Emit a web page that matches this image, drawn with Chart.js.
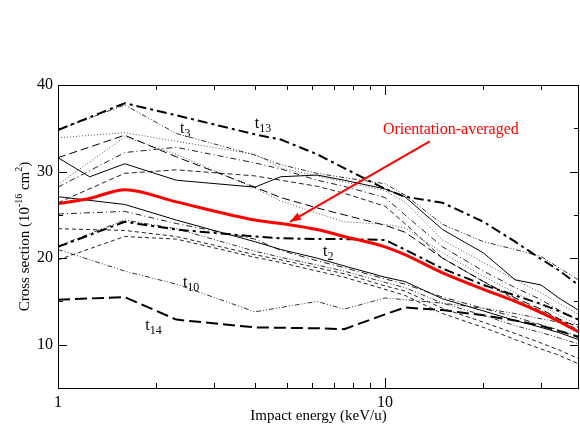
<!DOCTYPE html>
<html>
<head>
<meta charset="utf-8">
<script src="https://cdn.jsdelivr.net/npm/chart.js@4"></script>
<style>
  html, body { margin: 0; padding: 0; background: #fff; }
</style>
</head>
<body>
<canvas id="chart" width="580" height="425"></canvas>
<script>
// impact energies (keV/u) shared by all curves; null = no knot there
var energy = [1, 1.25, 1.6, 2.3, 4, 4.8, 6.2, 7.5, 10, 11.5, 15, 20, 25, 30, 34, 39];

var avg = [26.3, 26.9, 27.9, 26.5, 24.4, 24.0, 23.3, 22.5, 21.3, 20.4, 18.3, 16.4, 15.0, 13.7, 12.7, 11.5];
var t13 = [34.8, null, 37.9, 36.5, 34.3, 33.7, 32.0, 30.4, 28.0, 27.1, 26.4, 24.2, 21.9, 19.9, 18.6, 16.9];
var t3  = [34.8, null, 37.7, 34.4, 31.9, 30.8, 29.8, 29.3, 28.6, 27.3, 23.9, 21.9, 21.0, 20.2, 18.9, 17.5];
var s1  = [31.6, 29.4, 30.9, 29.0, 28.2, 29.4, 29.6, 29.0, 28.0, 27.1, 23.3, 20.6, 17.5, 16.9, 15.4, 14.0];
var uA  = [33.9, null, 34.5, 33.5, 32.0, 30.4, 29.5, 28.8, 27.8, 26.5, 22.1, 19.5, 17.5, 16.0, 14.8, 13.5];
var uB  = [31.6, null, 34.2, 31.7, 28.2, 27.0, 25.8, 25.0, 23.8, 23.0, 20.0, 17.3, 15.4, 14.1, 13.0, 12.0];
var uC  = [28.5, null, 34.0, 32.0, 28.1, 26.6, 25.2, 24.2, 23.9, 23.5, 20.6, 17.9, 16.0, 14.6, 13.4, 12.3];
var uD  = [28.2, null, 32.2, 32.8, 31.0, 30.3, 29.0, 28.3, 27.0, 25.0, 21.3, 18.5, 16.6, 15.2, 14.0, 12.9];
var uE  = [26.4, null, 29.8, 30.2, 29.5, 29.0, 28.3, 27.5, 26.0, 24.0, 20.0, 17.3, 15.2, 13.9, 12.9, 11.7];
var t2  = [21.3, null, 24.2, 23.3, 22.5, 22.3, 22.2, 22.2, 22.1, 21.0, 18.8, 16.9, 15.7, 14.7, 13.9, 12.9];
var l1  = [27.1, null, 26.2, 24.4, 21.9, 21.0, 20.0, 19.1, 17.8, 17.3, 15.3, 13.9, 12.8, 12.0, 11.4, 10.6];
var l2  = [25.1, null, 25.4, 24.0, 22.2, 20.9, 19.7, 18.9, 17.6, 17.0, 15.5, 14.2, 13.2, 12.3, 11.7, 11.0];
var l3  = [21.4, null, 24.4, 23.4, 20.8, 20.1, 19.2, 18.5, 17.2, 16.6, 14.8, 13.4, 12.2, 11.4, 10.8, 10.1];
var l4  = [23.4, null, 23.2, 22.5, 20.4, 19.8, 18.9, 18.2, 16.8, 16.2, 14.2, 12.6, 11.3, 10.2, 9.4, 8.4];
var l5  = [19.8, null, 22.5, 22.2, 20.1, 19.5, 18.5, 17.8, 16.4, 15.7, 13.6, 12.0, 10.6, 9.5, 8.8, 7.8];
var t10 = [21.0, null, 18.5, 17.0, 13.8, null, 15.0, 14.1, 15.4, 15.2, 14.8, 14.2, 13.6, 13.0, 12.6, 12.3];
var t14 = [15.2, null, 15.5, 12.9, 12.0, null, 11.9, 11.8, 13.5, 14.3, 14.0, 13.4, 12.8, 12.2, 11.6, 10.9];

var xTicks = [1, 10];
var xMinor = [2, 3, 4, 5, 6, 7, 8, 9, 20, 30];
var yTicks = [10, 20, 30, 40];
var yMinor = [15, 25, 35];

// curve labels (t + subscript), in data units
var curveLabels = [
  { sub: '13', x: 4.0, y: 35.0 },
  { sub: '3', x: 2.36, y: 34.5 },
  { sub: '2', x: 6.46, y: 20.2 },
  { sub: '10', x: 2.41, y: 16.7 },
  { sub: '14', x: 1.85, y: 11.7 }
];

var SERIF = "'Liberation Serif', 'Times New Roman', serif";

function pts(vals) {
  return energy.map(function(e, i) { return { x: e, y: vals[i] }; })
               .filter(function(p) { return p.y !== null; });
}

function line(vals, width, dash, color) {
  return {
    data: pts(vals),
    borderColor: color || '#000',
    borderWidth: width,
    borderDash: dash,
    pointRadius: 0,
    fill: false,
    tension: 0
  };
}

var datasets = [
  {
    data: pts(avg), borderColor: '#ff0000', borderWidth: 3, pointRadius: 0,
    fill: false, cubicInterpolationMode: 'monotone'
  },
  line(t13, 2, [10, 4, 3, 4]),
  line(t3, 1, [5, 2, 1, 2, 1, 2], '#333'),
  line(s1, 1, []),
  line(uA, 1, [1, 2], '#555'),
  line(uB, 1, [8, 4]),
  line(uC, 1, [1, 2], '#555'),
  line(uD, 1, [6, 3, 1, 3], '#222'),
  line(uE, 1, [5, 3], '#222'),
  line(t2, 2, [10, 4, 3, 4]),
  line(l1, 1, []),
  line(l2, 1, [6, 3, 1, 3], '#222'),
  line(l3, 1, [5, 2, 1, 2, 1, 2], '#333'),
  line(l4, 1, [4, 3], '#222'),
  line(l5, 1, [4, 3], '#222'),
  line(t10, 1, [5, 2, 1, 2, 1, 2], '#333'),
  line(t14, 2, [12, 5])
];

var decorations = {
  id: 'decorations',
  afterDraw: function(chart) {
    var ctx = chart.ctx;
    var a = chart.chartArea;
    var xs = chart.scales.x, ys = chart.scales.y;
    ctx.save();

    // frame
    ctx.strokeStyle = '#000';
    ctx.lineWidth = 1;
    ctx.setLineDash([]);
    ctx.strokeRect(a.left + 0.5, a.top + 0.5, a.right - a.left - 1, a.bottom - a.top);

    // inward ticks
    ctx.beginPath();
    function xt(v, len) {
      var px = Math.round(xs.getPixelForValue(v)) + 0.5;
      ctx.moveTo(px, a.bottom); ctx.lineTo(px, a.bottom - len);
      ctx.moveTo(px, a.top); ctx.lineTo(px, a.top + len);
    }
    function yt(v, len) {
      var py = Math.round(ys.getPixelForValue(v)) + 0.5;
      ctx.moveTo(a.left, py); ctx.lineTo(a.left + len, py);
      ctx.moveTo(a.right, py); ctx.lineTo(a.right - len, py);
    }
    xTicks.forEach(function(v) { xt(v, 10); });
    xMinor.forEach(function(v) { xt(v, 5); });
    yTicks.forEach(function(v) { yt(v, 9); });
    yMinor.forEach(function(v) { yt(v, 5); });
    ctx.stroke();

    // y title with superscripts
    ctx.save();
    ctx.translate(25, (a.top + a.bottom) / 2);
    ctx.rotate(-Math.PI / 2);
    ctx.fillStyle = '#000';
    ctx.textBaseline = 'middle';
    var parts = [
      { t: 'Cross section (10', sup: false },
      { t: '-16', sup: true },
      { t: ' cm', sup: false },
      { t: '2', sup: true },
      { t: ')', sup: false }
    ];
    var big = '15px ' + SERIF, small = '10px ' + SERIF;
    var total = 0;
    parts.forEach(function(p) { ctx.font = p.sup ? small : big; total += ctx.measureText(p.t).width; });
    var cx = -total / 2;
    parts.forEach(function(p) {
      ctx.font = p.sup ? small : big;
      ctx.fillText(p.t, cx, p.sup ? -6 : 0);
      cx += ctx.measureText(p.t).width;
    });
    ctx.restore();

    // curve labels
    ctx.fillStyle = '#000';
    ctx.textBaseline = 'alphabetic';
    ctx.textAlign = 'left';
    curveLabels.forEach(function(l) {
      var px = xs.getPixelForValue(l.x), py = ys.getPixelForValue(l.y);
      ctx.font = '16px ' + SERIF;
      ctx.fillText('t', px, py);
      var w = ctx.measureText('t').width;
      ctx.font = '12px ' + SERIF;
      ctx.fillText(l.sub, px + w, py + 4);
    });

    // orientation-averaged annotation
    ctx.fillStyle = '#ff0000';
    ctx.font = '16px ' + SERIF;
    ctx.textAlign = 'center';
    ctx.fillText('Orientation-averaged', xs.getPixelForValue(15.9), ys.getPixelForValue(34.3));

    var x0 = xs.getPixelForValue(13.7), y0 = ys.getPixelForValue(33.5);
    var x1 = xs.getPixelForValue(5.12), y1 = ys.getPixelForValue(24.2);
    ctx.strokeStyle = '#ff0000';
    ctx.lineWidth = 2;
    ctx.beginPath();
    ctx.moveTo(x0, y0);
    ctx.lineTo(x1, y1);
    ctx.stroke();
    var ang = Math.atan2(y1 - y0, x1 - x0);
    ctx.beginPath();
    ctx.moveTo(x1, y1);
    ctx.lineTo(x1 - 11 * Math.cos(ang) + 4 * Math.sin(ang), y1 - 11 * Math.sin(ang) - 4 * Math.cos(ang));
    ctx.lineTo(x1 - 11 * Math.cos(ang) - 4 * Math.sin(ang), y1 - 11 * Math.sin(ang) + 4 * Math.cos(ang));
    ctx.closePath();
    ctx.fillStyle = '#ff0000';
    ctx.fill();

    ctx.restore();
  }
};

new Chart(document.getElementById('chart'), {
  type: 'line',
  data: { datasets: datasets },
  options: {
    responsive: false,
    animation: false,
    devicePixelRatio: 1,
    layout: { padding: { top: 85, right: 1, left: 0, bottom: 0 } },
    plugins: { legend: { display: false }, tooltip: { enabled: false } },
    scales: {
      x: {
        type: 'logarithmic',
        min: 1,
        max: 39.2,
        grid: { display: false, drawTicks: false },
        border: { display: false },
        afterBuildTicks: function(s) { s.ticks = xTicks.map(function(v) { return { value: v }; }); },
        afterFit: function(s) { s.height = 37; },
        ticks: {
          autoSkip: false, maxRotation: 0, padding: 5, color: '#000',
          font: { family: SERIF, size: 16 },
          callback: function(v) { return String(v); }
        },
        title: {
          display: true, text: 'Impact energy (keV/u)', color: '#000',
          font: { family: SERIF, size: 15 }, padding: { top: 0, bottom: 0 }
        }
      },
      y: {
        type: 'linear',
        min: 5,
        max: 40,
        grid: { display: false, drawTicks: false },
        border: { display: false },
        afterBuildTicks: function(s) { s.ticks = yTicks.map(function(v) { return { value: v }; }); },
        afterFit: function(s) { s.width = 58; },
        ticks: { padding: 5, color: '#000', font: { family: SERIF, size: 16 } }
      }
    }
  },
  plugins: [decorations]
});
</script>
</body>
</html>
